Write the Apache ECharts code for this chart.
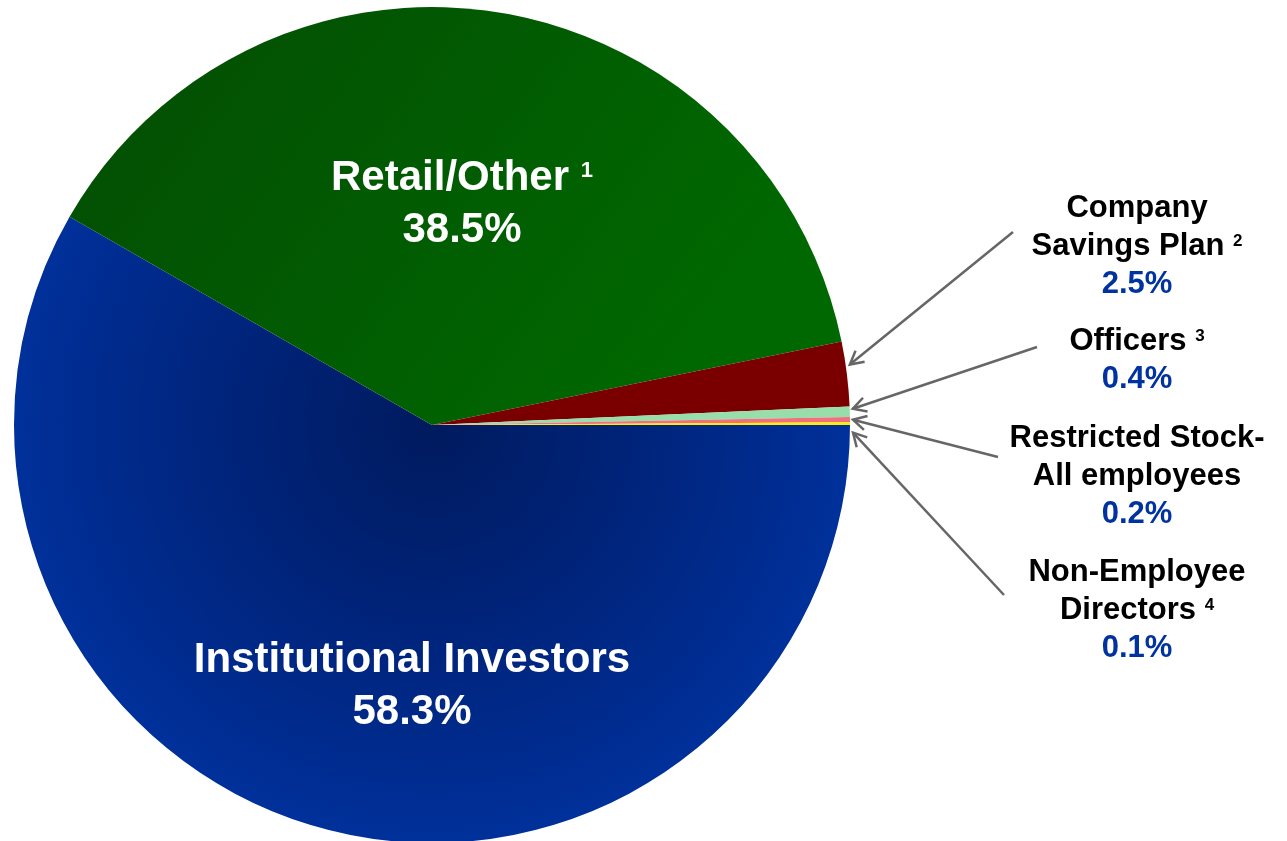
<!DOCTYPE html>
<html>
<head>
<meta charset="utf-8">
<title>Shareholder mix</title>
<script src="https://cdn.jsdelivr.net/npm/echarts@6/dist/echarts.min.js"></script>
<style>
  html, body { margin: 0; padding: 0; background: #fff; }
  #main { width: 1287px; height: 841px; }
</style>
</head>
<body>
<div id="main"></div>
<script>
// data
const names = ['Institutional Investors', 'Retail/Other', 'Company Savings Plan', 'Officers', 'Restricted Stock-All employees', 'Non-Employee Directors'];
const nameLines = [['Institutional Investors'], ['Retail/Other'], ['Company', 'Savings Plan'], ['Officers'], ['Restricted Stock-', 'All employees'], ['Non-Employee', 'Directors']];
const shares = [58.3, 38.5, 2.5, 0.4, 0.2, 0.1];
const footnotes = ['', '1', '2', '3', '', '4'];

// layout / style
const FONT = "'Liberation Sans', Arial, sans-serif";
const CX = 432, CY = 425, R = 418;
const labelPos = [[412, 686], [462, 204], [1137, 246], [1137, 360], [1137, 476], [1137, 610]];
const arrowTails = { 2: [1013, 232], 3: [1037, 347], 4: [998, 457], 5: [1004, 595] };
const arrowTipNudge = { 2: -9, 3: -3, 4: 0, 5: 9 };

const colors = [
  { type: 'radial', x: CX, y: CY, r: R, global: true,
    colorStops: [{ offset: 0, color: '#001a5e' }, { offset: 0.55, color: '#00257e' }, { offset: 1, color: '#00309a' }] },
  { type: 'linear', x: 120, y: 40, x2: 640, y2: 420, global: true,
    colorStops: [{ offset: 0, color: '#034e03' }, { offset: 1, color: '#006800' }] },
  '#7a0000', '#98deaa', '#f0707e', '#ffee00'
];

function richFor(inside) {
  if (inside) {
    return {
      n: { fontFamily: FONT, fontSize: 42, fontWeight: 'bold', color: '#fff', lineHeight: 52 },
      s: { fontFamily: FONT, fontSize: 22, fontWeight: 'bold', color: '#fff', verticalAlign: 'top', padding: [8, 0, 0, 0] },
      p: { fontFamily: FONT, fontSize: 42, fontWeight: 'bold', color: '#fff', lineHeight: 52 }
    };
  }
  return {
    n: { fontFamily: FONT, fontSize: 31, fontWeight: 'bold', color: '#000', lineHeight: 38 },
    s: { fontFamily: FONT, fontSize: 17, fontWeight: 'bold', color: '#000', verticalAlign: 'top', padding: [6, 0, 0, 0] },
    p: { fontFamily: FONT, fontSize: 31, fontWeight: 'bold', color: '#0033a0', lineHeight: 38 }
  };
}

function labelText(i) {
  const lines = nameLines[i].map((l, k) => {
    let t = '{n|' + l + '}';
    if (k === nameLines[i].length - 1 && footnotes[i]) t += '{n| }{s|' + footnotes[i] + '}';
    return t;
  });
  lines.push('{p|' + shares[i].toFixed(1) + '%}');
  return lines.join('\n');
}

const pieData = names.map((n, i) => ({
  name: n,
  value: shares[i],
  itemStyle: { color: colors[i] },
  label: {
    show: true,
    position: 'inside',
    formatter: labelText(i),
    rich: richFor(i < 2),
    align: 'center'
  }
}));

// arrows from the right-hand labels to their slices
const total = shares.reduce((a, b) => a + b, 0);
const graphics = [];
let acc = 0;
shares.forEach((v, i) => {
  const a0 = acc / total * 360;
  acc += v;
  const a1 = acc / total * 360;
  if (!arrowTails[i]) return;
  const mid = (a0 + a1) / 2 * Math.PI / 180; // clockwise from east
  const tip = [CX + (R + 3) * Math.cos(mid), CY + (R + 3) * Math.sin(mid) + arrowTipNudge[i]];
  const tail = arrowTails[i];
  const dx = tail[0] - tip[0], dy = tail[1] - tip[1];
  const len = Math.sqrt(dx * dx + dy * dy);
  const ux = dx / len, uy = dy / len;
  const wing = (ang) => {
    const c = Math.cos(ang), s = Math.sin(ang);
    return [tip[0] + 15 * (ux * c - uy * s), tip[1] + 15 * (ux * s + uy * c)];
  };
  const style = { stroke: '#666', lineWidth: 2.5, fill: null };
  graphics.push({ type: 'line', z: 10, shape: { x1: tail[0], y1: tail[1], x2: tip[0], y2: tip[1] }, style: style });
  graphics.push({ type: 'polyline', z: 10, shape: { points: [wing(0.5), tip, wing(-0.5)] }, style: style });
});

const chart = echarts.init(document.getElementById('main'), null, { renderer: 'canvas' });
chart.setOption({
  backgroundColor: '#fff',
  animation: false,
  graphic: graphics,
  series: [{
    type: 'pie',
    center: [CX, CY],
    radius: R,
    startAngle: 0,
    clockwise: true,
    avoidLabelOverlap: false,
    labelLine: { show: false },
    labelLayout: function (params) {
      const p = labelPos[params.dataIndex];
      return { x: p[0], y: p[1], align: 'center', verticalAlign: 'middle' };
    },
    emphasis: { disabled: true },
    data: pieData
  }]
});
</script>
</body>
</html>
